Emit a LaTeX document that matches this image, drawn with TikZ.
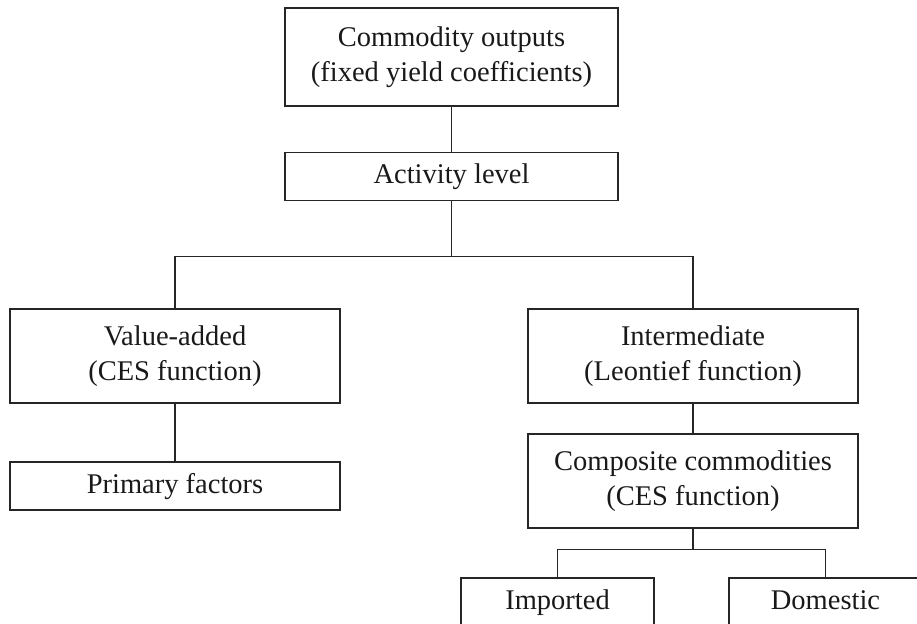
\documentclass[tikz,border=0pt]{standalone}
\usepackage{fontspec}
\setmainfont{Liberation Serif}
\usepackage{tikz}

\begin{document}
\begin{tikzpicture}[x=1pt, y=-1pt, line width=1.2pt, draw=black!85,
  box/.style={draw, align=center, inner sep=0pt, text=black!90,
    font=\fontsize{28.5}{35}\selectfont, minimum width=330, minimum height=94},
  thinbox/.style={box, minimum height=48, text height=21pt, text depth=7pt},
  leafbox/.style={thinbox, minimum width=193}]
  \useasboundingbox (0,0) rectangle (917,623);
  \clip (0,0) rectangle (917,623);

  % Output and activity
  \node[box, minimum width=333, minimum height=98] (out) at (451.5,57)
    {Commodity outputs\\(fixed yield coefficients)};
  \node[thinbox, minimum width=333] (act) at (451.5,176.5) {Activity level};

  % Value-added nest
  \node[box] (va) at (175,356) {Value-added\\(CES function)};
  \node[thinbox] (prim) at (175,486) {Primary factors};

  % Intermediate nest
  \node[box] (inter) at (693,356) {Intermediate\\(Leontief function)};
  \node[box] (comp) at (693,481) {Composite commodities\\(CES function)};

  % Armington split
  \node[leafbox] (imp) at (557.5,602) {Imported};
  \node[leafbox] (dom) at (825.5,602) {Domestic};

  % Connectors
  \draw (out) -- (act);
  \draw (act.south) -- ++(0,55) coordinate (split);
  \draw (va.north) |- (split) -| (inter.north);
  \draw (va) -- (prim);
  \draw (inter) -- (comp);
  \draw (comp.south) -- ++(0,21) coordinate (split2);
  \draw (imp.north) |- (split2) -| (dom.north);
\end{tikzpicture}
\end{document}
